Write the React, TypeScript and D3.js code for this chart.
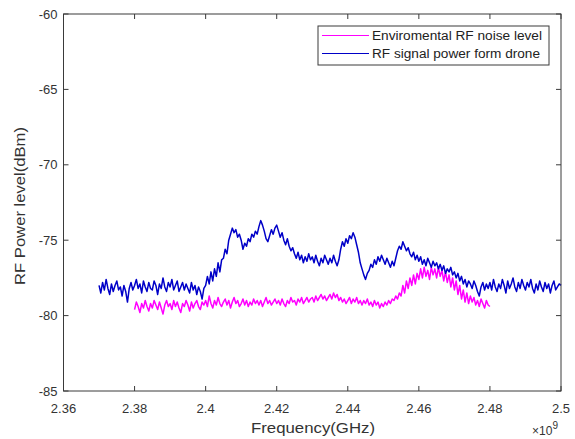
import React from "react";
import * as d3 from "d3";

const W = 575;
const H = 439;

const blueStart = 2.37;
const blueStep = 0.0005;
const blueValues = [
  -78.0, -78.5, -77.8, -78.3, -77.6, -78.2, -78.6, -77.9, -78.4, -78.0,
  -77.7, -78.3, -78.1, -78.7, -78.0, -78.4, -79.1, -78.2, -77.8, -78.3,
  -78.0, -77.6, -78.2, -77.9, -78.5, -77.7, -78.1, -78.4, -77.8, -78.2,
  -78.3, -77.7, -78.0, -78.6, -77.9, -78.2, -77.5, -78.1, -78.4, -77.8,
  -78.1, -77.6, -78.3, -78.0, -77.7, -78.4, -78.1, -77.8, -78.3, -77.9,
  -78.2, -78.5, -77.8, -78.3, -78.0, -78.6, -78.1, -78.4, -78.9, -78.2,
  -78.0, -77.4, -77.9, -77.1, -77.7, -76.9, -77.4, -76.5, -77.1, -76.3,
  -76.2, -75.6, -75.9, -75.0, -74.6, -74.2, -74.5, -74.3, -74.8, -74.6,
  -75.0, -75.6, -75.2, -75.4, -74.9, -75.1, -74.6, -74.8, -74.4, -74.6,
  -74.1, -73.7, -74.0, -74.4, -74.9, -75.1, -74.7, -74.3, -74.6, -74.2,
  -74.0, -74.4, -74.8, -74.5, -75.0, -75.3, -74.9, -75.4, -75.7, -75.5,
  -75.9, -76.2, -75.8, -76.3, -76.0, -76.5, -76.1, -76.4, -75.9, -76.3,
  -76.1, -76.5, -76.0, -76.4, -76.7, -76.2, -76.5, -76.0, -76.3, -76.6,
  -76.2, -76.5, -76.0, -76.4, -76.7, -76.3, -75.6, -75.1, -75.4, -74.9,
  -75.2, -74.7, -74.9, -74.5, -74.8, -75.3, -75.8, -76.5, -76.9, -77.3,
  -77.6, -77.2, -77.0, -76.6, -76.8, -76.3, -76.6, -76.1, -76.4, -76.0,
  -76.3, -76.6, -76.2, -76.5, -76.8, -76.4, -76.7, -76.2, -75.7, -75.4,
  -75.6, -75.1, -75.4, -75.7, -75.5, -75.9, -76.1, -75.8, -76.3, -76.0,
  -76.4, -76.1, -76.6, -76.3, -76.7, -76.2, -76.5, -76.8, -76.4, -76.7,
  -76.5, -76.9, -76.6, -77.0, -76.7, -77.2, -76.9, -77.1, -76.8, -77.3,
  -77.1, -77.5, -77.2, -77.7, -77.4, -77.9, -77.6, -78.1, -77.7, -77.9,
  -78.2, -77.7, -78.0, -78.4, -78.7, -78.1, -77.8, -78.3, -77.9, -78.2,
  -77.8, -78.3, -77.6, -78.1, -78.4, -77.9, -78.2, -77.6, -78.0, -78.5,
  -77.7, -78.2, -77.9, -77.5, -78.1, -78.4, -77.8, -78.2, -77.6, -78.0,
  -78.3, -77.8, -78.1, -77.6, -78.2, -78.5, -77.9, -78.3, -77.7, -78.1,
  -78.4, -77.8, -78.2, -77.9, -78.5, -78.0, -77.7, -78.3, -78.1, -77.9,
  -78.0,
];

const noiseStart = 2.38;
const noiseStep = 0.0005;
const noiseValues = [
  -79.6, -79.1, -79.4, -79.8, -79.2, -79.5, -79.0, -79.4, -79.7, -79.2,
  -79.5, -79.0, -79.3, -79.6, -79.1, -79.5, -79.9, -79.3, -79.0, -79.4,
  -79.2, -79.6, -79.0, -79.4, -79.1, -79.5, -79.8, -79.2, -79.4, -79.0,
  -79.3, -79.7, -79.1, -79.5, -79.2, -79.0, -79.4, -79.6, -79.1, -79.3,
  -79.0, -79.4, -78.7, -79.2, -79.5, -79.0, -79.3, -78.8, -79.2, -79.4,
  -79.1, -78.9, -79.3, -79.0, -79.5, -79.1, -78.8, -79.2, -79.0, -79.4,
  -79.2, -78.9, -79.3, -79.0, -79.4, -79.1, -79.3, -78.9, -79.2, -79.0,
  -79.3, -79.0, -79.4, -79.1, -78.8, -79.2, -79.0, -79.3, -79.1, -78.9,
  -79.2, -79.0, -79.3, -78.9, -79.2, -79.4, -79.0, -79.2, -78.8, -79.1,
  -79.0, -79.3, -78.9, -79.1, -78.8, -79.2, -79.0, -78.8, -79.1, -78.9,
  -78.8, -79.1, -78.7, -79.0, -78.8, -78.6, -78.9, -78.7, -79.0, -78.8,
  -78.6, -78.9, -78.5, -78.8, -78.6, -79.0, -78.8, -79.1, -78.9, -79.2,
  -79.0, -78.8, -79.2, -78.9, -79.1, -78.8, -79.2, -79.0, -79.3, -79.0,
  -79.2, -78.9, -79.3, -79.1, -79.4, -79.0, -79.3, -79.1, -79.5, -79.2,
  -79.4, -79.1, -79.3, -79.0, -79.2, -78.9, -79.0, -78.7, -78.9, -78.5,
  -78.7, -78.0, -78.5, -77.7, -78.2, -77.5, -78.0, -77.3, -77.9, -77.2,
  -77.6, -76.9, -77.5, -76.8, -77.4, -77.0, -77.6, -76.8, -77.3, -76.9,
  -77.5, -76.8, -77.4, -77.0, -77.7, -77.1, -77.8, -77.3, -78.1, -77.5,
  -78.3, -77.7, -78.6, -78.0, -78.9, -78.3, -79.1, -78.5, -79.2, -78.7,
  -79.1, -78.8, -79.3, -79.0, -79.4, -78.9, -79.2, -79.5, -79.0, -79.3,
  -79.4,
];

const xTicks = [2.36, 2.38, 2.4, 2.42, 2.44, 2.46, 2.48, 2.5];
const yTicks = [-60, -65, -70, -75, -80, -85];
const seriesNames = ["Enviromental RF noise level", "RF signal power form drone"];
const seriesColors = ["#ff00ff", "#0000c8"];

const margin = { left: 63.5, right: 14, top: 14, bottom: 48 };

export default function App() {
  const x = d3.scaleLinear().domain([2.36, 2.5]).range([margin.left, W - margin.right]);
  const y = d3.scaleLinear().domain([-85, -60]).range([H - margin.bottom, margin.top]);

  const bluePts = blueValues.map((v, i) => [blueStart + i * blueStep, v] as [number, number]);
  const noisePts = noiseValues.map((v, i) => [noiseStart + i * noiseStep, v] as [number, number]);
  const line = d3
    .line<[number, number]>()
    .x((d) => x(d[0]))
    .y((d) => y(d[1]));

  const x0 = margin.left;
  const x1 = W - margin.right;
  const y0 = margin.top;
  const y1 = H - margin.bottom;
  const axisColor = "#3a3a3a";
  const font = "'Liberation Sans', Arial, sans-serif";
  const tl = 5;

  const lx = 318;
  const ly = 26;
  const lw = 231;
  const lh = 39;
  const legendLens = [170, 168];

  return (
    <svg
      width={W}
      height={H}
      style={{ position: "absolute", left: 0, top: 0, background: "#fff" }}
      fontFamily={font}
    >
      <rect x={0} y={0} width={W} height={H} fill="#fff" />
      <path d={line(noisePts) || ""} fill="none" stroke={seriesColors[0]} strokeWidth={1.5} strokeLinejoin="round" />
      <path d={line(bluePts) || ""} fill="none" stroke={seriesColors[1]} strokeWidth={1.5} strokeLinejoin="round" />

      {/* box */}
      <rect x={x0} y={y0} width={x1 - x0} height={y1 - y0} fill="none" stroke={axisColor} strokeWidth={1} />
      {xTicks.map((t) => (
        <g key={"xt" + t}>
          <line x1={x(t)} x2={x(t)} y1={y1} y2={y1 - tl} stroke={axisColor} />
          <line x1={x(t)} x2={x(t)} y1={y0} y2={y0 + tl} stroke={axisColor} />
          <text x={x(t)} y={y1 + 22} textAnchor="middle" fontSize={13} fill="#333">
            {String(t)}
          </text>
        </g>
      ))}
      {yTicks.map((t) => (
        <g key={"yt" + t}>
          <line x1={x0} x2={x0 + tl} y1={y(t)} y2={y(t)} stroke={axisColor} />
          <line x1={x1} x2={x1 - tl} y1={y(t)} y2={y(t)} stroke={axisColor} />
          <text x={x0 - 6} y={y(t) + 4.5} textAnchor="end" fontSize={13} fill="#333">
            {String(t)}
          </text>
        </g>
      ))}
      <text
        x={313}
        y={433}
        textAnchor="middle"
        fontSize={14.5}
        fill="#333"
        textLength={124}
        lengthAdjust="spacingAndGlyphs"
      >
        Frequency(GHz)
      </text>
      <text
        transform={`translate(25, 206) rotate(-90)`}
        textAnchor="middle"
        fontSize={14}
        fill="#333"
        textLength={158}
        lengthAdjust="spacingAndGlyphs"
      >
        RF Power level(dBm)
      </text>
      <text x={558} y={435} textAnchor="end" fontSize={12} fill="#333">
        <tspan>×10</tspan>
        <tspan dy={-6} fontSize={10}>9</tspan>
      </text>

      {/* legend */}
      <rect x={lx} y={ly} width={lw} height={lh} fill="#fff" stroke={axisColor} strokeWidth={1} />
      {seriesNames.map((n, i) => (
        <g key={n}>
          <line
            x1={lx + 4}
            x2={lx + 51}
            y1={ly + 9.5 + i * 18}
            y2={ly + 9.5 + i * 18}
            stroke={seriesColors[i]}
            strokeWidth={1}
          />
          <text
            x={lx + 54}
            y={ly + 14 + i * 18}
            fontSize={12.5}
            fill="#222"
            textLength={legendLens[i]}
            lengthAdjust="spacingAndGlyphs"
          >
            {n}
          </text>
        </g>
      ))}
    </svg>
  );
}
